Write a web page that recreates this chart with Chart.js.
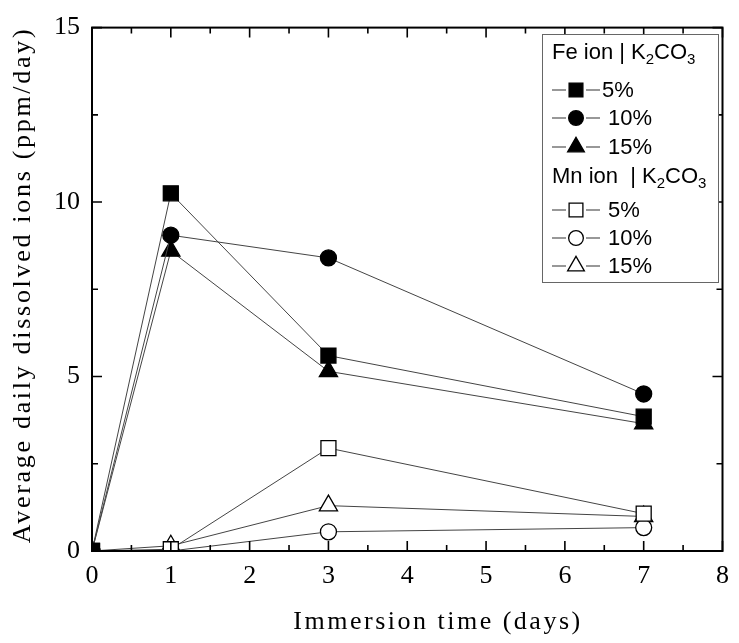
<!DOCTYPE html>
<html>
<head>
<meta charset="utf-8">
<script src="https://cdn.jsdelivr.net/npm/chart.js@4.4.1/dist/chart.umd.min.js"></script>
<style>
  html, body { margin: 0; padding: 0; background: #fff; }
</style>
</head>
<body>
<canvas id="chart" width="739" height="643"></canvas>
<script>
// Data
var days = [0, 1, 3, 7];
var fe5 = [0, 10.25, 5.6, 3.85];
var fe10 = [0, 9.05, 8.4, 4.5];
var fe15 = [0, 8.6, 5.15, 3.65];
var mn5 = [0, 0.05, 2.95, 1.07];
var mn10 = [0, 0, 0.55, 0.67];
var mn15 = [0, 0.15, 1.3, 0.99];
var xTicks = [0, 1, 2, 3, 4, 5, 6, 7, 8];
var yTicks = [0, 5, 10, 15];
var seriesLabels = ['5%', ' 10%', ' 15%', ' 5%', ' 10%', ' 15%'];
var groupLabels = ['Fe ion | K', 'Mn ion  | K'];

var SERIF = '"Liberation Serif", "Times New Roman", serif';
var SANS = '"Liberation Sans", Arial, sans-serif';

function pts(vals) {
  return days.map(function (d, i) { return { x: d, y: vals[i] }; });
}

function series(label, vals, shape, filled) {
  var r = shape === 'rect' ? 10.6 : (shape === 'circle' ? 8 : 10.5);
  return {
    label: label,
    data: pts(vals),
    showLine: true,
    borderColor: '#444',
    borderWidth: 1,
    pointStyle: shape,
    pointRadius: r,
    pointHoverRadius: r,
    pointBackgroundColor: filled ? '#000' : '#fff',
    pointBorderColor: '#000',
    pointBorderWidth: 1.3,
    clip: { left: 0, top: 0, right: 0, bottom: 0 }
  };
}

var datasets = [
  series(seriesLabels[0], fe5, 'rect', true),
  series(seriesLabels[1], fe10, 'circle', true),
  series(seriesLabels[2], fe15, 'triangle', true),
  series(seriesLabels[3], mn5, 'rect', false),
  series(seriesLabels[4], mn10, 'circle', false),
  series(seriesLabels[5], mn15, 'triangle', false)
];

// frame, inward ticks, axis titles
var frame = {
  id: 'frame',
  afterDatasetsDraw: function (chart) {
    var ctx = chart.ctx, a = chart.chartArea;
    var xs = chart.scales.x, ys = chart.scales.y;
    ctx.save();
    ctx.strokeStyle = '#000';
    ctx.lineWidth = 2;
    ctx.strokeRect(a.left, a.top, a.right - a.left, a.bottom - a.top);
    ctx.lineWidth = 1.6;
    ctx.beginPath();
    for (var v = 0; v <= 8; v += 0.5) {
      var px = xs.getPixelForValue(v);
      var len = v % 1 === 0 ? 10 : 6;
      ctx.moveTo(px, a.bottom); ctx.lineTo(px, a.bottom - len);
      ctx.moveTo(px, a.top); ctx.lineTo(px, a.top + len);
    }
    for (var w = 0; w <= 15; w += 2.5) {
      var py = ys.getPixelForValue(w);
      var l2 = w % 5 === 0 ? 10 : 6;
      ctx.moveTo(a.left, py); ctx.lineTo(a.left + l2, py);
      ctx.moveTo(a.right, py); ctx.lineTo(a.right - l2, py);
    }
    ctx.stroke();

    // axis titles
    ctx.fillStyle = '#000';
    ctx.font = '26px ' + SERIF;
    ctx.textAlign = 'center';
    ctx.textBaseline = 'middle';
    ctx.letterSpacing = '2.5px';
    ctx.fillText('Immersion time (days)', 438, 622);
    ctx.translate(23, 285);
    ctx.rotate(-Math.PI / 2);
    ctx.letterSpacing = '2.7px';
    ctx.fillText('Average daily dissolved ions (ppm/day)', 0, 0);
    ctx.restore();
  }
};

// grouped legend
var legendBox = {
  id: 'legendBox',
  afterDraw: function (chart) {
    var ctx = chart.ctx;
    var left = 542, top = 34, right = 718, bottom = 282;
    ctx.save();
    ctx.fillStyle = '#fff';
    ctx.fillRect(left, top, right - left, bottom - top);
    ctx.strokeStyle = '#666';
    ctx.lineWidth = 1;
    ctx.strokeRect(left + 0.5, top + 0.5, right - left, bottom - top);

    var headerY = [53, 177];
    var rowY = [90, 118, 147, 210, 238, 266];
    ctx.textBaseline = 'middle';
    ctx.textAlign = 'left';
    ctx.fillStyle = '#000';

    headerY.forEach(function (hy, g) {
      var x = 552;
      ctx.font = '22px ' + SANS;
      ctx.fillText(groupLabels[g], x, hy);
      x += ctx.measureText(groupLabels[g]).width;
      ctx.font = '15px ' + SANS;
      ctx.fillText('2', x, hy + 7);
      x += ctx.measureText('2').width;
      ctx.font = '22px ' + SANS;
      ctx.fillText('CO', x, hy);
      x += ctx.measureText('CO').width;
      ctx.font = '15px ' + SANS;
      ctx.fillText('3', x, hy + 7);
    });

    chart.data.datasets.forEach(function (ds, i) {
      var y = rowY[i];
      ctx.strokeStyle = '#333';
      ctx.lineWidth = 1.2;
      ctx.beginPath();
      ctx.moveTo(552, y); ctx.lineTo(566, y);
      ctx.moveTo(586, y); ctx.lineTo(600, y);
      ctx.stroke();
      ctx.fillStyle = ds.pointBackgroundColor;
      ctx.strokeStyle = ds.pointBorderColor;
      ctx.lineWidth = ds.pointBorderWidth;
      Chart.helpers.drawPoint(ctx, {
        pointStyle: ds.pointStyle,
        radius: ds.pointRadius * 0.92,
        rotation: 0,
        borderWidth: ds.pointBorderWidth
      }, 576, y);
      ctx.fillStyle = '#000';
      ctx.font = '22px ' + SANS;
      ctx.fillText(ds.label, 602, y + 1);
    });
    ctx.restore();
  }
};

new Chart(document.getElementById('chart'), {
  type: 'scatter',
  data: { datasets: datasets },
  options: {
    responsive: false,
    animation: false,
    devicePixelRatio: 1,
    layout: { padding: { top: 21, right: 8, left: 0, bottom: 0 } },
    plugins: {
      legend: { display: false },
      tooltip: { enabled: false }
    },
    scales: {
      x: {
        type: 'linear',
        min: 0,
        max: 8,
        grid: { display: false, drawTicks: false },
        border: { display: false },
        afterBuildTicks: function (s) { s.ticks = xTicks.map(function (v) { return { value: v }; }); },
        afterFit: function (s) { s.height = 92; },
        ticks: { color: '#000', padding: 10, font: { family: SERIF, size: 26 } }
      },
      y: {
        type: 'linear',
        min: 0,
        max: 15,
        grid: { display: false, drawTicks: false },
        border: { display: false },
        afterBuildTicks: function (s) { s.ticks = yTicks.map(function (v) { return { value: v }; }); },
        afterFit: function (s) { s.width = 92; },
        ticks: { color: '#000', padding: 12, font: { family: SERIF, size: 26 } }
      }
    }
  },
  plugins: [frame, legendBox]
});
</script>
</body>
</html>
